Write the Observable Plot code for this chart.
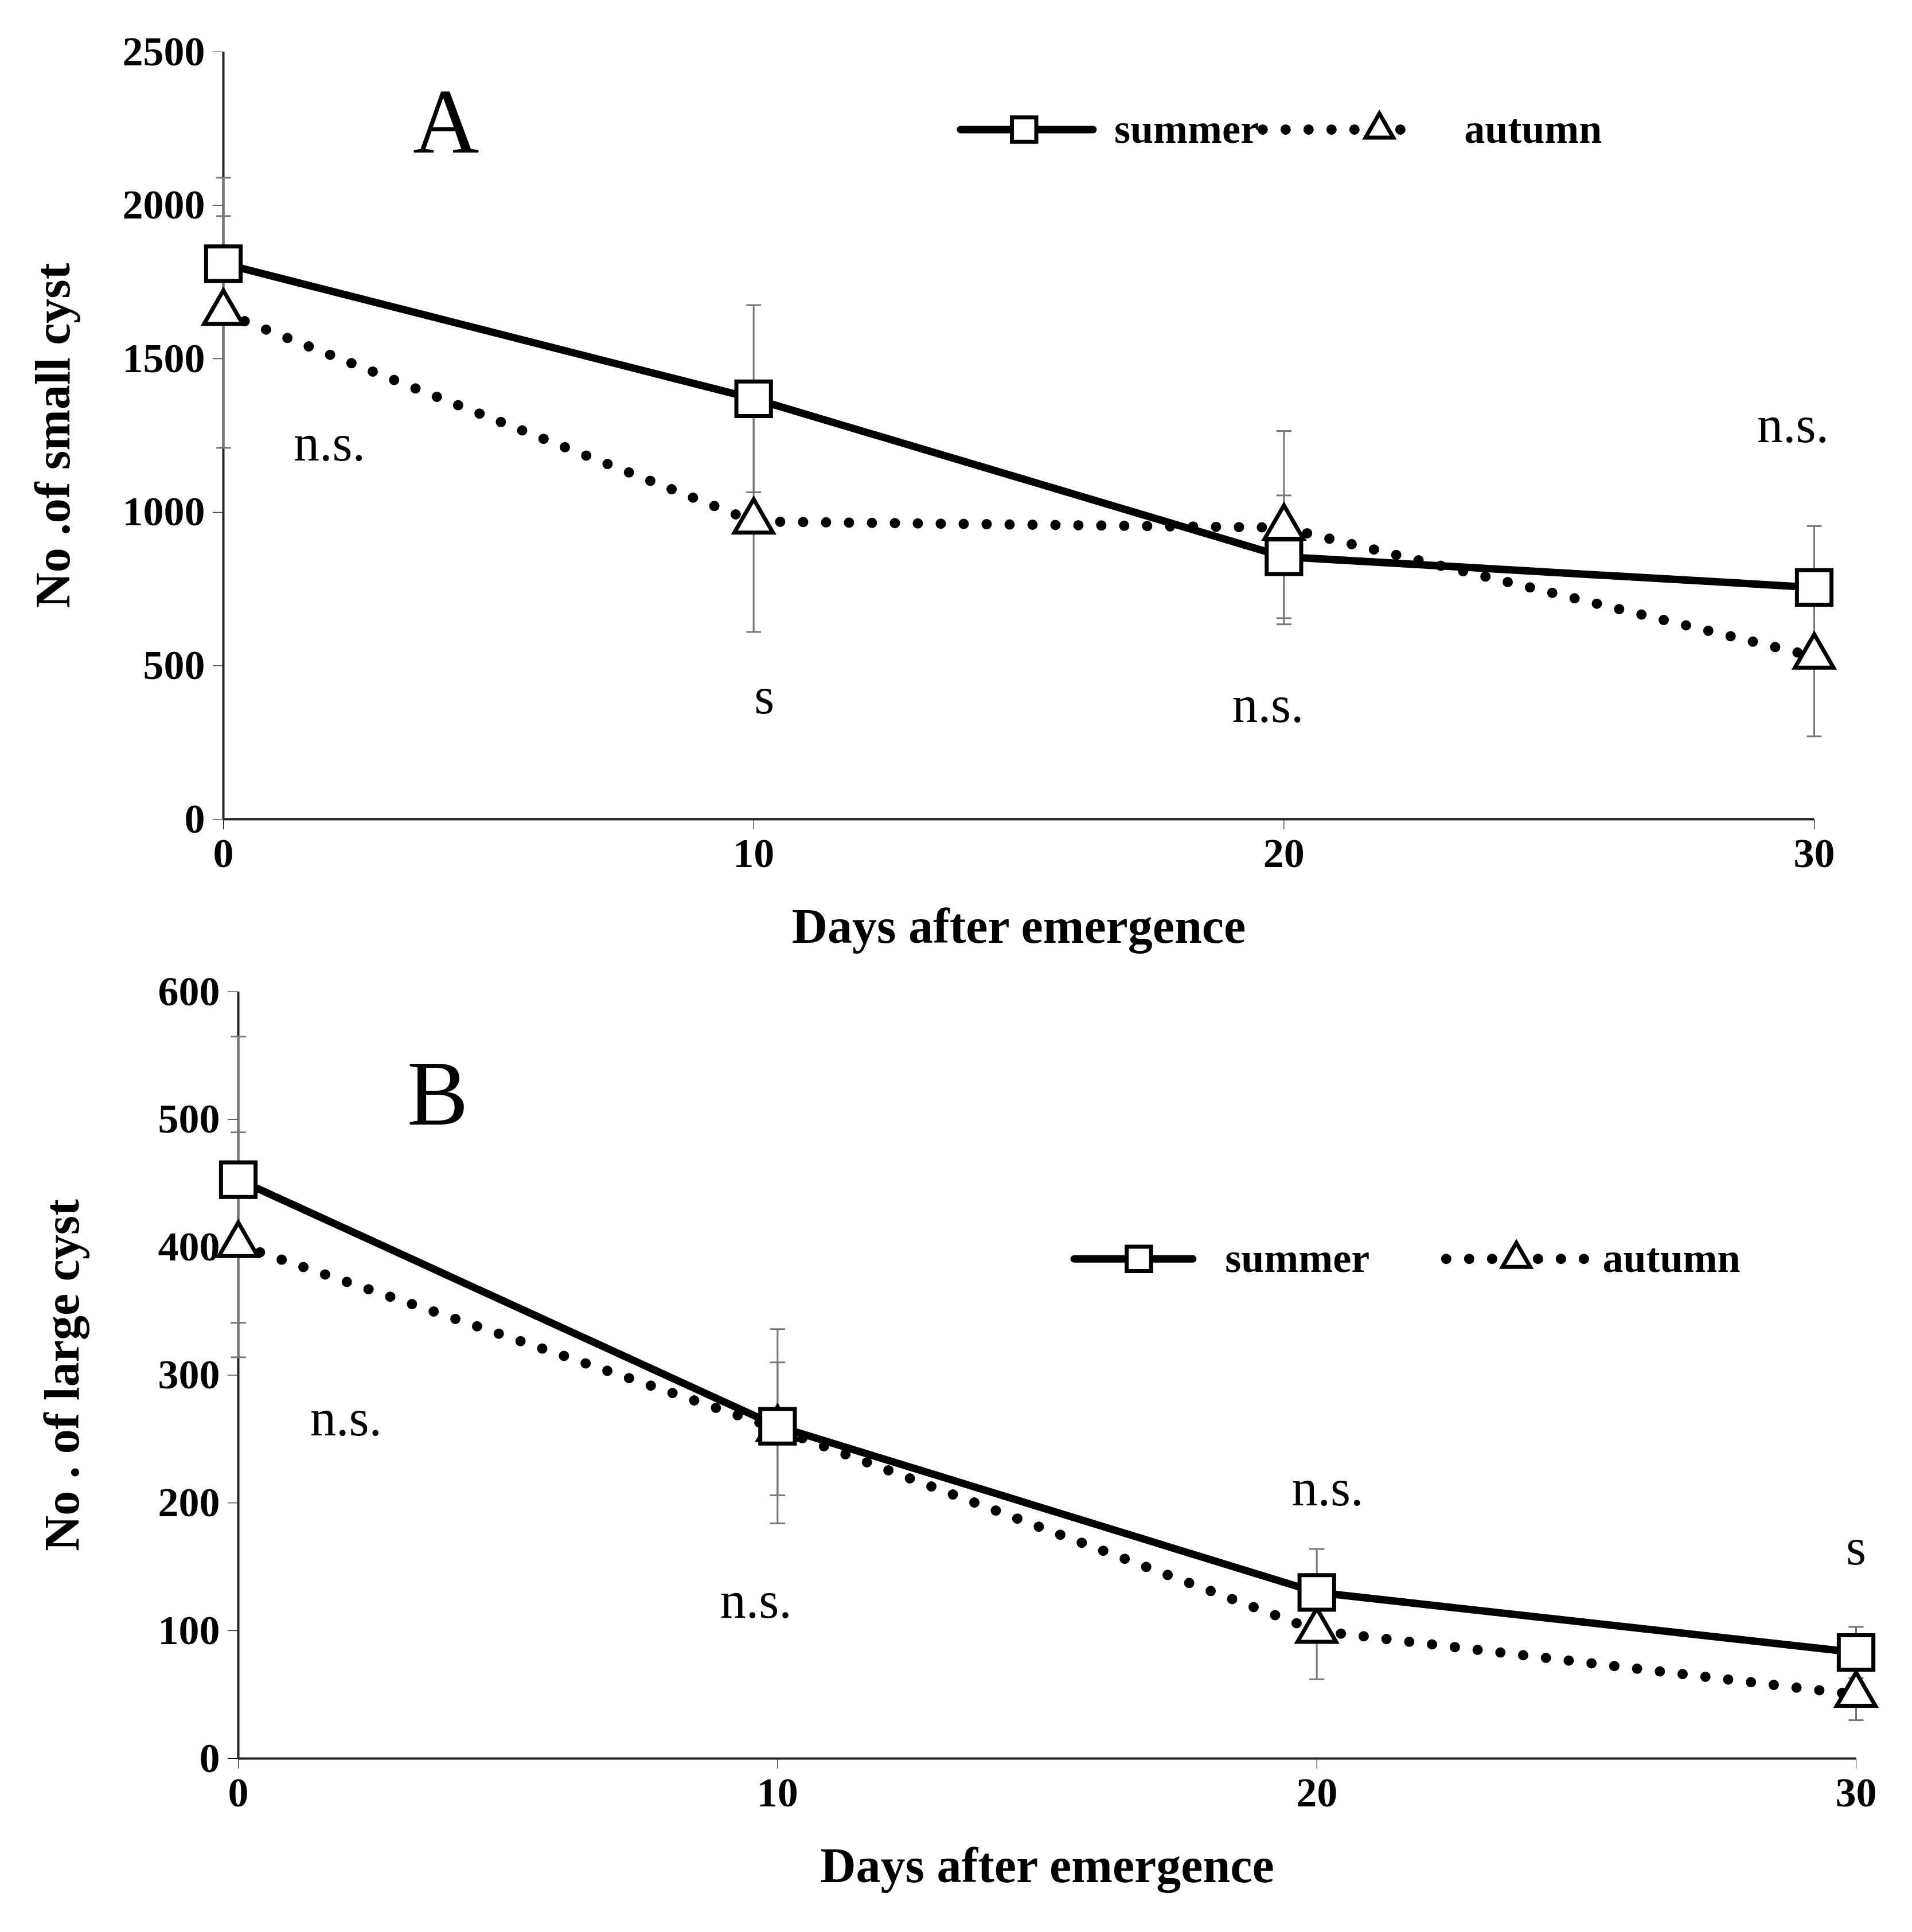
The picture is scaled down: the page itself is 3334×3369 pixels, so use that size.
<!DOCTYPE html>
<html><head><meta charset="utf-8">
<script src="https://cdn.jsdelivr.net/npm/d3@7"></script>
<script src="https://cdn.jsdelivr.net/npm/@observablehq/plot@0.6"></script>
<style>body{margin:0;background:#fff}#c svg{display:block}
#c g[aria-label="y-axis label"] text,#c g[aria-label="x-axis label"] text{font-size:86px}
</style>
</head><body><div id="c"></div>
<script>
const days = [0, 10, 20, 30];
const smallSummer = [1810, 1370, 855, 755];
const smallSummerErr = [155, 305, 200, 200];
const smallAutumn = [1650, 970, 950, 530];
const smallAutumnErr = [440, 360, 315, 260];
const largeSummer = [453, 260, 130, 83];
const largeSummerErr = [112, 76, 34, 20];
const largeAutumn = [402, 258, 100, 50];
const largeAutumnErr = [88, 52, 38, 20];
const sigA = [{x:2.0,y:1222,t:"n.s."},{x:10.2,y:398,t:"s"},{x:19.7,y:370,t:"n.s."},{x:29.6,y:1282,t:"n.s."}];
const sigB = [{x:2.0,y:266,t:"n.s."},{x:9.6,y:123,t:"n.s."},{x:20.2,y:211,t:"n.s."},{x:30,y:165,t:"s"}];

const serif = "Liberation Serif, Times New Roman, serif";

function panel(o) {
  const S = days.map((d,i)=>({x:d,y:o.s[i],e:o.se[i]}));
  const A = days.map((d,i)=>({x:d,y:o.a[i],e:o.ae[i]}));
  const errs = [...S, ...A];
  const cw = 0.14;
  const L = o.leg;
  return Plot.plot({
    width: 3334, height: o.h,
    marginTop: o.mt, marginBottom: o.mb, marginLeft: o.ml, marginRight: o.mr,
    style: {fontFamily: serif, fontSize: "72px", fontWeight: "bold", color: "#000", background: "#fff"},
    x: {domain: [0, 30], ticks: days, tickFormat: "d", tickSize: 18, tickPadding: 14, label: "Days after emergence", labelArrow: "none", labelAnchor: "center", labelOffset: 215},
    y: {domain: o.ydom, ticks: o.yticks, tickFormat: "d", tickSize: 18, tickPadding: 14, label: o.ylab, labelArrow: "none", labelAnchor: "center", labelOffset: o.lo},
    marks: [
      Plot.ruleX([0], {stroke: "#222", strokeWidth: 4}),
      Plot.ruleY([0], {stroke: "#222", strokeWidth: 4}),
      Plot.ruleX(errs, {x: "x", y1: d=>d.y-d.e, y2: d=>d.y+d.e, stroke: "#777", strokeWidth: 3}),
      Plot.link(errs, {x1: d=>d.x-cw, x2: d=>d.x+cw, y1: d=>d.y+d.e, y2: d=>d.y+d.e, stroke: "#777", strokeWidth: 3}),
      Plot.link(errs, {x1: d=>d.x-cw, x2: d=>d.x+cw, y1: d=>d.y-d.e, y2: d=>d.y-d.e, stroke: "#777", strokeWidth: 3}),
      Plot.line(A, {x: "x", y: "y", stroke: "#000", strokeWidth: 18, strokeDasharray: "0 40", strokeLinecap: "round"}),
      Plot.line(S, {x: "x", y: "y", stroke: "#000", strokeWidth: 13}),
      Plot.dot(A, {x: "x", y: "y", symbol: "triangle", r: 25, stroke: "#000", strokeWidth: 7, fill: "white"}),
      Plot.dot(S, {x: "x", y: "y", symbol: "square", r: 34, stroke: "#000", strokeWidth: 7, fill: "white"}),
      Plot.line([{x:L.s1,y:L.y},{x:L.s2,y:L.y}], {x:"x", y:"y", stroke:"#000", strokeWidth: 13}),
      Plot.dot([{x:L.sm,y:L.y}], {x:"x", y:"y", symbol:"square", r: 24, stroke:"#000", strokeWidth: 7, fill:"white"}),
      Plot.text([{x:L.st,y:L.y}], {x:"x", y:"y", text: ()=>"summer", textAnchor:"start", fontSize: 72, fontWeight:"bold"}),
      Plot.line([{x:L.a1,y:L.y},{x:L.a2,y:L.y}], {x:"x", y:"y", stroke:"#000", strokeWidth: 18, strokeDasharray:"0 40", strokeLinecap:"round"}),
      Plot.dot([{x:L.am,y:L.y}], {x:"x", y:"y", symbol:"triangle", r: 18, stroke:"#000", strokeWidth: 7, fill:"white"}),
      Plot.text([{x:L.at,y:L.y}], {x:"x", y:"y", text: ()=>"autumn", textAnchor:"start", fontSize: 72, fontWeight:"bold"}),
      Plot.text([o.letter], {x:"x", y:"y", text:"t", fontSize: 160, fontWeight:"normal"}),
      Plot.text(o.sig, {x:"x", y:"y", text:"t", fontSize: 90, fontWeight:"normal"})
    ]
  });
}

const c = document.getElementById("c");
c.appendChild(panel({h:1700, mt:90, mb:272, ml:389, mr:171, ydom:[0,2500], yticks:[0,500,1000,1500,2000,2500],
  ylab:"No .of small cyst", lo:330, s:smallSummer, se:smallSummerErr, a:smallAutumn, ae:smallAutumnErr,
  leg:{y:2247, s1:13.9, s2:16.4, sm:15.1, st:16.8, a1:19.6, a2:22.5, am:21.8, at:23.4},
  letter:{x:4.2,y:2267,t:"A"}, sig:sigA}));
c.appendChild(panel({h:1669, mt:29, mb:303, ml:415, mr:98, ydom:[0,600], yticks:[0,100,200,300,400,500,600],
  ylab:"No . of large cyst", lo:340, s:largeSummer, se:largeSummerErr, a:largeAutumn, ae:largeAutumnErr,
  leg:{y:391, s1:15.5, s2:17.7, sm:16.7, st:18.3, a1:22.4, a2:25.0, am:23.7, at:25.3},
  letter:{x:3.7,y:519,t:"B"}, sig:sigB}));
</script></body></html>
